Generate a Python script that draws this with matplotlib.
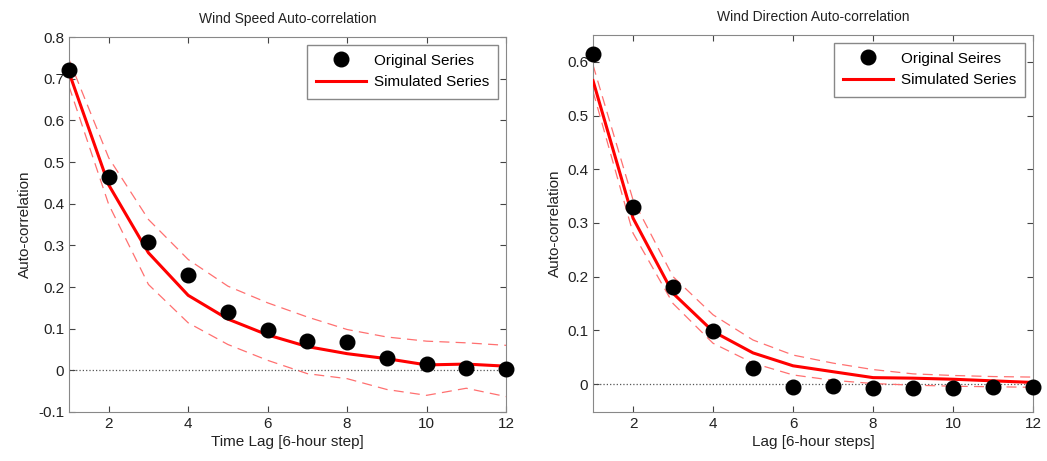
import matplotlib.pyplot as plt
import numpy as np

plt.rcParams['font.family'] = ['Liberation Sans', 'DejaVu Sans']

lags = np.arange(1, 13)

# wind speed
ws_orig = [0.72, 0.463, 0.307, 0.228, 0.14, 0.097, 0.07, 0.067, 0.03, 0.015, 0.005, 0.003]
ws_sim = [0.715, 0.445, 0.282, 0.18, 0.123, 0.085, 0.057, 0.04, 0.028, 0.013, 0.015, 0.01]
ws_up = [0.746, 0.51, 0.362, 0.266, 0.202, 0.162, 0.128, 0.098, 0.08, 0.07, 0.066, 0.06]
ws_lo = [0.682, 0.398, 0.206, 0.114, 0.062, 0.024, -0.008, -0.02, -0.046, -0.06, -0.043, -0.063]

# wind direction
wd_orig = [0.614, 0.329, 0.181, 0.099, 0.029, -0.005, -0.004, -0.008, -0.008, -0.008, -0.006, -0.005]
wd_sim = [0.565, 0.309, 0.169, 0.098, 0.058, 0.034, 0.023, 0.012, 0.011, 0.009, 0.006, 0.003]
wd_up = [0.594, 0.343, 0.2, 0.129, 0.082, 0.054, 0.039, 0.027, 0.019, 0.016, 0.014, 0.013]
wd_lo = [0.545, 0.281, 0.15, 0.076, 0.039, 0.017, 0.007, 0.001, -0.002, -0.004, -0.005, -0.006]

fig = plt.figure(figsize=(10.47, 4.61), dpi=100)
ax1 = fig.add_axes([0.0659, 0.1063, 0.4174, 0.8134])
ax2 = fig.add_axes([0.5664, 0.1063, 0.4203, 0.8178])

def draw(ax, orig, sim, up, lo, lab1, title, xlab, ylim, yticks):
    ax.axhline(0, color='#555555', ls=':', lw=0.9, zorder=1)
    ax.plot(lags, up, color='#ff7070', ls=(0, (8, 5)), lw=0.9, zorder=2)
    ax.plot(lags, lo, color='#ff7070', ls=(0, (8, 5)), lw=0.9, zorder=2)
    ax.plot(lags, orig, 'o', color='black', ms=10.5, label=lab1, zorder=4, clip_on=False)
    ax.plot(lags, sim, '-', color='#ff0000', lw=2.2, label='Simulated Series', zorder=3)
    ax.set_xlim(1, 12)
    ax.set_ylim(*ylim)
    ax.set_xticks([2, 4, 6, 8, 10, 12])
    ax.set_yticks(yticks)
    ax.set_yticklabels(['0' if abs(t) < 1e-9 else ('%g' % t) for t in yticks])
    ax.tick_params(direction='in', top=True, right=True, labelsize=11, length=4,
                   color='#444444', labelcolor='#222222')
    for s in ax.spines.values():
        s.set_color('#888888')
    ax.set_title(title, fontsize=10, color='#222222', pad=10)
    ax.set_xlabel(xlab, fontsize=11, color='#222222', labelpad=3)
    ax.set_ylabel('Auto-correlation', fontsize=11, color='#222222', labelpad=4)
    leg = ax.legend(loc='upper right', fontsize=11, fancybox=False, framealpha=1,
                    edgecolor='#888888', borderpad=0.6, handlelength=3.3,
                    handletextpad=0.5, labelspacing=0.5)
    leg.get_frame().set_linewidth(1.0)

draw(ax1, ws_orig, ws_sim, ws_up, ws_lo, 'Original Series',
     'Wind Speed Auto-correlation', 'Time Lag [6-hour step]', (-0.1, 0.8),
     [-0.1, 0, 0.1, 0.2, 0.3, 0.4, 0.5, 0.6, 0.7, 0.8])
draw(ax2, wd_orig, wd_sim, wd_up, wd_lo, 'Original Seires',
     'Wind Direction Auto-correlation', 'Lag [6-hour steps]', (-0.052, 0.65),
     [0, 0.1, 0.2, 0.3, 0.4, 0.5, 0.6])

fig.savefig('out.png', dpi=100)
